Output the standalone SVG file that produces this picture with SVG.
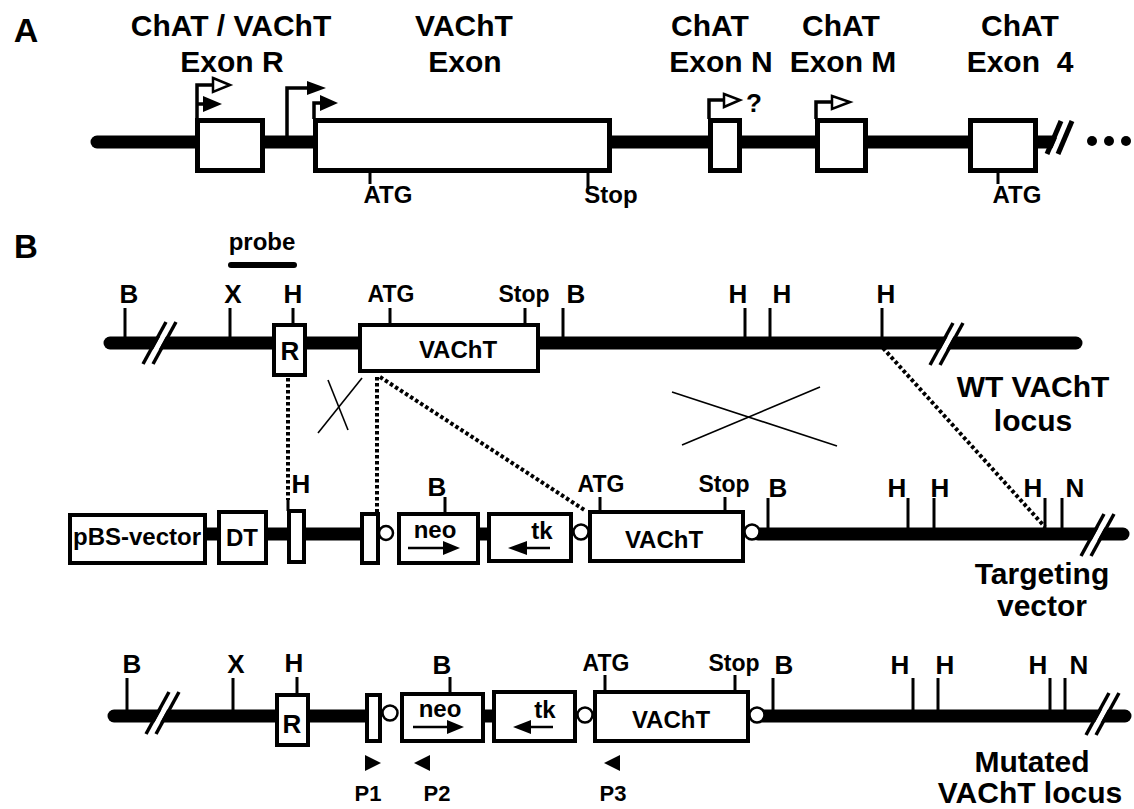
<svg xmlns="http://www.w3.org/2000/svg" xmlns:xlink="http://www.w3.org/1999/xlink" width="1134" height="809" viewBox="0 0 1134 809">
<style>
.t{font-family:"Liberation Sans",Arial,sans-serif;font-weight:bold;text-anchor:middle;fill:#000}
.lab{font-size:30px}
.sm{font-size:26px}
.xs{font-size:23px}
.pl{font-size:22px}
.box{fill:#fff;stroke:#000;stroke-width:4}
.boxA{fill:#fff;stroke:#000;stroke-width:5}
.dna{stroke:#000;stroke-width:13;stroke-linecap:round;fill:none}
.seg{stroke:#000;stroke-width:13;fill:none}
.tick{stroke:#000;stroke-width:3;fill:none}
.prom{stroke:#000;stroke-width:3.5;fill:none}
.dot{stroke:#000;stroke-width:4;stroke-dasharray:3.5 2.5;fill:none}
.thin{stroke:#000;stroke-width:1.6;fill:none}
.lox{fill:#fff;stroke:#000;stroke-width:2.5}
</style>
<defs>
<g id="brk">
<line x1="-12" y1="21" x2="11" y2="-21" stroke="#fff" stroke-width="5"/>
<line x1="-17" y1="21" x2="6" y2="-21" stroke="#000" stroke-width="3.5"/>
<line x1="-7" y1="21" x2="16" y2="-21" stroke="#000" stroke-width="3.5"/>
</g>
</defs>
<rect width="1134" height="809" fill="#fff"/>

<!-- Panel A -->
<g id="panelA">
<text class="t" x="26" y="42" style="font-size:34px">A</text>
<g id="A-line">
<line class="dna" x1="97" y1="142" x2="1052" y2="142"/>
<line x1="1053" y1="152" x2="1066" y2="122" stroke="#fff" stroke-width="4"/>
<line x1="1047" y1="154" x2="1061" y2="121" stroke="#000" stroke-width="5"/>
<line x1="1058" y1="154" x2="1072" y2="121" stroke="#000" stroke-width="5"/>
<circle cx="1092" cy="141" r="5"/>
<circle cx="1109" cy="141" r="5"/>
<circle cx="1126" cy="141" r="5"/>
</g>
<g id="A-exonR">
<text class="t lab" x="231" y="36">ChAT / VAChT</text>
<text class="t lab" x="232" y="72">Exon R</text>
<rect class="boxA" x="197.5" y="120.5" width="65" height="50"/>
<path class="prom" d="M197,119 V85 H214"/>
<polygon points="213,78 230,85 213,92" fill="#fff" stroke="#000" stroke-width="2.5"/>
<path class="prom" d="M197,104 H205"/>
<polygon points="203,96 222,104 203,112" fill="#000"/>
<path class="prom" d="M287,137 V88 H309"/>
<polygon points="307,81 326,88 307,95" fill="#000"/>
</g>
<g id="A-vacht">
<text class="t lab" x="464" y="36">VAChT</text>
<text class="t lab" x="465" y="72">Exon</text>
<rect class="boxA" x="315.5" y="120.5" width="294" height="50"/>
<path class="prom" d="M314,119 V103 H321"/>
<polygon points="320,95 338,103 320,111" fill="#000"/>
<line class="tick" x1="370" y1="172" x2="370" y2="184"/>
<text class="t" x="388" y="203" style="font-size:24px">ATG</text>
<line class="tick" x1="588" y1="172" x2="588" y2="189"/>
<text class="t" x="611" y="203" style="font-size:24px">Stop</text>
</g>
<g id="A-exonN">
<text class="t lab" x="710" y="36">ChAT</text>
<text class="t lab" x="721" y="72">Exon N</text>
<rect class="boxA" x="710.5" y="120.5" width="29" height="50"/>
<path class="prom" d="M709,119 V100 H725"/>
<polygon points="724,94 740,100 724,107" fill="#fff" stroke="#000" stroke-width="2.5"/>
<text class="t" x="754" y="112" style="font-size:26px">?</text>
</g>
<g id="A-exonM">
<text class="t lab" x="841" y="36">ChAT</text>
<text class="t lab" x="843" y="72">Exon M</text>
<rect class="boxA" x="817.5" y="120.5" width="48" height="50"/>
<path class="prom" d="M816,119 V102 H833"/>
<polygon points="832,96 850,102 832,109" fill="#fff" stroke="#000" stroke-width="2.5"/>
</g>
<g id="A-exon4">
<text class="t lab" x="1020" y="36">ChAT</text>
<text class="t lab" x="1020" y="72" xml:space="preserve">Exon  4</text>
<rect class="boxA" x="970.5" y="120.5" width="65" height="50"/>
<line class="tick" x1="998" y1="172" x2="998" y2="184"/>
<text class="t" x="1017" y="203" style="font-size:24px">ATG</text>
</g>
</g>

<!-- Panel B -->
<text class="t" x="26" y="258" style="font-size:33px">B</text>
<g id="probe">
<text class="t sm" x="262" y="250" style="font-size:24px">probe</text>
<line x1="231" y1="265" x2="294" y2="265" stroke="#000" stroke-width="6" stroke-linecap="round"/>
</g>

<!-- Row 1: WT locus -->
<g id="wt-locus">
<line class="dna" x1="110" y1="343" x2="1076" y2="343"/>
<use href="#brk" x="160" y="343"/>
<use href="#brk" x="947" y="344"/>
<line class="tick" x1="125" y1="308" x2="125" y2="340"/>
<text class="t sm" x="129" y="303">B</text>
<line class="tick" x1="230" y1="308" x2="230" y2="340"/>
<text class="t sm" x="233" y="303">X</text>
<line class="tick" x1="293" y1="308" x2="293" y2="325"/>
<text class="t sm" x="293" y="303">H</text>
<line class="tick" x1="563" y1="308" x2="563" y2="340"/>
<text class="t sm" x="576" y="303">B</text>
<line class="tick" x1="745" y1="308" x2="745" y2="340"/>
<text class="t sm" x="738" y="303">H</text>
<line class="tick" x1="770" y1="308" x2="770" y2="340"/>
<text class="t sm" x="782" y="303">H</text>
<line class="tick" x1="882" y1="308" x2="882" y2="340"/>
<text class="t sm" x="886" y="303">H</text>
<text class="t lab" x="1033" y="397">WT VAChT</text>
<text class="t lab" x="1033" y="431">locus</text>
</g>
<g id="wt-R">
<rect class="box" x="274" y="325" width="31" height="50"/>
<text class="t" x="290" y="360" style="font-size:26px">R</text>
</g>
<g id="wt-VAChT">
<rect class="box" x="360" y="325" width="178" height="46"/>
<text class="t" x="458" y="358" style="font-size:24px">VAChT</text>
<line class="tick" x1="390" y1="308" x2="390" y2="325"/>
<text class="t xs" x="391" y="302">ATG</text>
<line class="tick" x1="525" y1="308" x2="525" y2="325"/>
<text class="t xs" x="524" y="302">Stop</text>
</g>

<!-- Connectors -->
<g id="connectors">
<line class="dot" x1="288" y1="378" x2="288" y2="500"/>
<line class="dot" x1="377" y1="377" x2="377" y2="512"/>
<line class="dot" x1="380" y1="377" x2="586" y2="511"/>
<line class="dot" x1="883" y1="348" x2="1045" y2="527"/>
<line class="thin" x1="362" y1="378" x2="318" y2="433"/>
<line class="thin" x1="328" y1="380" x2="348" y2="430"/>
<line class="thin" x1="672" y1="392" x2="837" y2="446"/>
<line class="thin" x1="682" y1="445" x2="820" y2="387"/>
</g>

<!-- Row 2: Targeting vector -->
<g id="tv-backbone">
<line class="seg" x1="205" y1="534" x2="219" y2="534"/>
<line class="seg" x1="266" y1="534" x2="289" y2="534"/>
<line class="seg" x1="304" y1="534" x2="362" y2="534"/>
<line class="seg" x1="478" y1="534" x2="489" y2="534"/>
<line class="dna" x1="758" y1="534" x2="1123" y2="534"/>
<use href="#brk" x="1098" y="535"/>
<line class="tick" x1="768" y1="498" x2="768" y2="530"/>
<text class="t sm" x="778" y="497">B</text>
<line class="tick" x1="908" y1="498" x2="908" y2="530"/>
<text class="t sm" x="897" y="497">H</text>
<line class="tick" x1="934" y1="498" x2="934" y2="530"/>
<text class="t sm" x="940" y="497">H</text>
<line class="tick" x1="1045" y1="498" x2="1045" y2="530"/>
<text class="t sm" x="1033" y="497">H</text>
<line class="tick" x1="1062" y1="498" x2="1062" y2="530"/>
<text class="t sm" x="1075" y="497">N</text>
<text class="t lab" x="1042" y="584">Targeting</text>
<text class="t lab" x="1042" y="616">vector</text>
</g>
<g id="tv-pBS">
<rect class="box" x="70" y="515" width="135" height="48"/>
<text class="t" x="137" y="545" style="font-size:24px">pBS-vector</text>
</g>
<g id="tv-DT">
<rect class="box" x="219" y="512" width="47" height="51"/>
<text class="t" x="242" y="546" style="font-size:24px">DT</text>
</g>
<g id="tv-arm1">
<rect class="box" x="289" y="511" width="15" height="51"/>
<line class="tick" x1="288" y1="500" x2="288" y2="511"/>
<text class="t sm" x="301" y="493">H</text>
</g>
<g id="tv-arm2">
<rect class="box" x="362" y="514" width="16" height="49"/>
<circle class="lox" cx="386" cy="533" r="7"/>
</g>
<g id="tv-neo">
<rect class="box" x="399" y="514" width="79" height="49"/>
<line class="tick" x1="445" y1="497" x2="445" y2="514"/>
<text class="t sm" x="437" y="496">B</text>
<text class="t" x="435" y="538" style="font-size:24px">neo</text>
<line x1="408" y1="548" x2="445" y2="548" stroke="#000" stroke-width="2.5"/>
<polygon points="443,541 460,548 443,555" fill="#000"/>
</g>
<g id="tv-tk">
<rect class="box" x="489" y="514" width="82" height="47"/>
<text class="t" x="542" y="539" style="font-size:24px">tk</text>
<line x1="550" y1="548" x2="525" y2="548" stroke="#000" stroke-width="2.5"/>
<polygon points="527,541 508,548 527,555" fill="#000"/>
<circle class="lox" cx="581" cy="532" r="7.5"/>
</g>
<g id="tv-VAChT">
<rect class="box" x="590" y="512" width="153" height="49"/>
<text class="t" x="664" y="548" style="font-size:24px">VAChT</text>
<line class="tick" x1="600" y1="497" x2="600" y2="512"/>
<text class="t xs" x="601" y="492">ATG</text>
<line class="tick" x1="725" y1="497" x2="725" y2="512"/>
<text class="t xs" x="724" y="492">Stop</text>
<circle class="lox" cx="752" cy="532" r="7.5"/>
</g>

<!-- Row 3: Mutated locus -->
<g id="mut-backbone">
<line class="dna" x1="114" y1="716" x2="367" y2="716"/>
<line class="seg" x1="483" y1="716" x2="494" y2="716"/>
<line class="dna" x1="762" y1="716" x2="1125" y2="716"/>
<use href="#brk" x="163" y="713"/>
<use href="#brk" x="1103" y="714"/>
<line class="tick" x1="127" y1="678" x2="127" y2="712"/>
<text class="t sm" x="132" y="673">B</text>
<line class="tick" x1="233" y1="678" x2="233" y2="712"/>
<text class="t sm" x="236" y="673">X</text>
<line class="tick" x1="297" y1="677" x2="297" y2="695"/>
<text class="t sm" x="294" y="672">H</text>
<line class="tick" x1="773" y1="678" x2="773" y2="712"/>
<text class="t sm" x="784" y="674">B</text>
<line class="tick" x1="913" y1="678" x2="913" y2="712"/>
<text class="t sm" x="900" y="674">H</text>
<line class="tick" x1="938" y1="678" x2="938" y2="712"/>
<text class="t sm" x="945" y="674">H</text>
<line class="tick" x1="1050" y1="678" x2="1050" y2="712"/>
<text class="t sm" x="1038" y="674">H</text>
<line class="tick" x1="1065" y1="678" x2="1065" y2="712"/>
<text class="t sm" x="1079" y="674">N</text>
<text class="t lab" x="1032" y="772">Mutated</text>
<text class="t lab" x="1030" y="803">VAChT locus</text>
</g>
<g id="mut-R">
<rect class="box" x="277" y="695" width="31" height="50"/>
<text class="t" x="292" y="733" style="font-size:26px">R</text>
</g>
<g id="mut-arm">
<rect class="box" x="367" y="695" width="13" height="46"/>
<circle class="lox" cx="390" cy="713" r="7.5"/>
</g>
<g id="mut-neo">
<rect class="box" x="402" y="694" width="81" height="47"/>
<line class="tick" x1="450" y1="677" x2="450" y2="694"/>
<text class="t sm" x="442" y="674">B</text>
<text class="t" x="440" y="717" style="font-size:24px">neo</text>
<line x1="413" y1="727" x2="449" y2="727" stroke="#000" stroke-width="2.5"/>
<polygon points="447,720 464,727 447,734" fill="#000"/>
</g>
<g id="mut-tk">
<rect class="box" x="494" y="692" width="81" height="49"/>
<text class="t" x="545" y="718" style="font-size:24px">tk</text>
<line x1="553" y1="727" x2="529" y2="727" stroke="#000" stroke-width="2.5"/>
<polygon points="531,720 513,727 531,734" fill="#000"/>
<circle class="lox" cx="585" cy="715" r="7.5"/>
</g>
<g id="mut-VAChT">
<rect class="box" x="595" y="692" width="153" height="49"/>
<text class="t" x="671" y="728" style="font-size:24px">VAChT</text>
<line class="tick" x1="605" y1="675" x2="605" y2="692"/>
<text class="t xs" x="606" y="671">ATG</text>
<line class="tick" x1="735" y1="675" x2="735" y2="692"/>
<text class="t xs" x="734" y="671">Stop</text>
<circle class="lox" cx="757" cy="715" r="7.5"/>
</g>
<g id="primers">
<polygon points="365,755 381,763 365,771" fill="#000"/>
<text class="t pl" x="368" y="801">P1</text>
<polygon points="430,755 414,763 430,771" fill="#000"/>
<text class="t pl" x="437" y="801">P2</text>
<polygon points="620,755 604,763 620,771" fill="#000"/>
<text class="t pl" x="613" y="801">P3</text>
</g>
</svg>
